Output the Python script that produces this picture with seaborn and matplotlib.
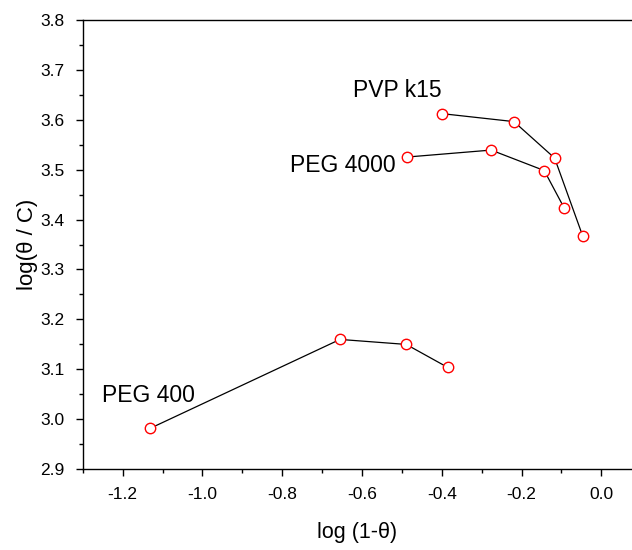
import matplotlib
matplotlib.use('Agg')
import matplotlib.pyplot as plt
import pandas as pd
import seaborn as sns
from matplotlib.ticker import MultipleLocator

# Values
pvp_x = [-0.400, -0.219, -0.117, -0.047]
pvp_y = [3.612, 3.596, 3.523, 3.368]
peg4000_x = [-0.488, -0.276, -0.143, -0.093]
peg4000_y = [3.525, 3.539, 3.498, 3.423]
peg400_x = [-1.131, -0.655, -0.489, -0.385]
peg400_y = [2.982, 3.160, 3.150, 3.104]

labels = ['PVP k15', 'PEG 4000', 'PEG 400']
label_pos = [(-0.622, 3.646), (-0.780, 3.496), (-1.251, 3.035)]

df = pd.concat([
    pd.DataFrame({'x': pvp_x, 'y': pvp_y, 'series': 'PVP k15'}),
    pd.DataFrame({'x': peg4000_x, 'y': peg4000_y, 'series': 'PEG 4000'}),
    pd.DataFrame({'x': peg400_x, 'y': peg400_y, 'series': 'PEG 400'}),
])

sns.set_style('ticks')
plt.rcParams['font.family'] = ['Liberation Sans', 'DejaVu Sans']
for key in ['text.color', 'axes.labelcolor', 'xtick.color', 'ytick.color', 'axes.edgecolor']:
    plt.rcParams[key] = 'black'

fig = plt.figure(figsize=(6.32, 5.5), dpi=100)
ax = fig.add_axes([0.1309, 0.1467, 0.8691, 0.8175])

for name in labels:
    sub = df[df['series'] == name]
    sns.lineplot(data=sub, x='x', y='y', sort=False, estimator=None, ax=ax,
                 color='black', linewidth=0.9, marker='o', markersize=7.5,
                 markerfacecolor='white', markeredgecolor='red',
                 markeredgewidth=1.0)

for name, (tx, ty) in zip(labels, label_pos):
    ax.text(tx, ty, name, fontsize=16.5, ha='left', va='baseline')

ax.set_xlim(-1.3, 0.077)
ax.set_ylim(2.9, 3.8)
ax.xaxis.set_major_locator(MultipleLocator(0.2))
ax.xaxis.set_minor_locator(MultipleLocator(0.1))
ax.yaxis.set_major_locator(MultipleLocator(0.1))
ax.yaxis.set_minor_locator(MultipleLocator(0.05))
ax.xaxis.set_major_formatter(plt.FormatStrFormatter('%.1f'))
ax.yaxis.set_major_formatter(plt.FormatStrFormatter('%.1f'))

ax.tick_params(which='major', direction='out', length=5, width=1, labelsize=12.5, pad=8)
ax.tick_params(which='minor', direction='out', length=3, width=1)
ax.tick_params(top=False, right=False, which='both')
ax.spines['right'].set_visible(False)
for s in ['left', 'bottom', 'top']:
    ax.spines[s].set_linewidth(1.0)

ax.set_xlabel('log (1-θ)', fontsize=15.5, labelpad=14)
ax.set_ylabel('log(θ / C)', fontsize=16, labelpad=2)

fig.savefig('out.png', dpi=100)
